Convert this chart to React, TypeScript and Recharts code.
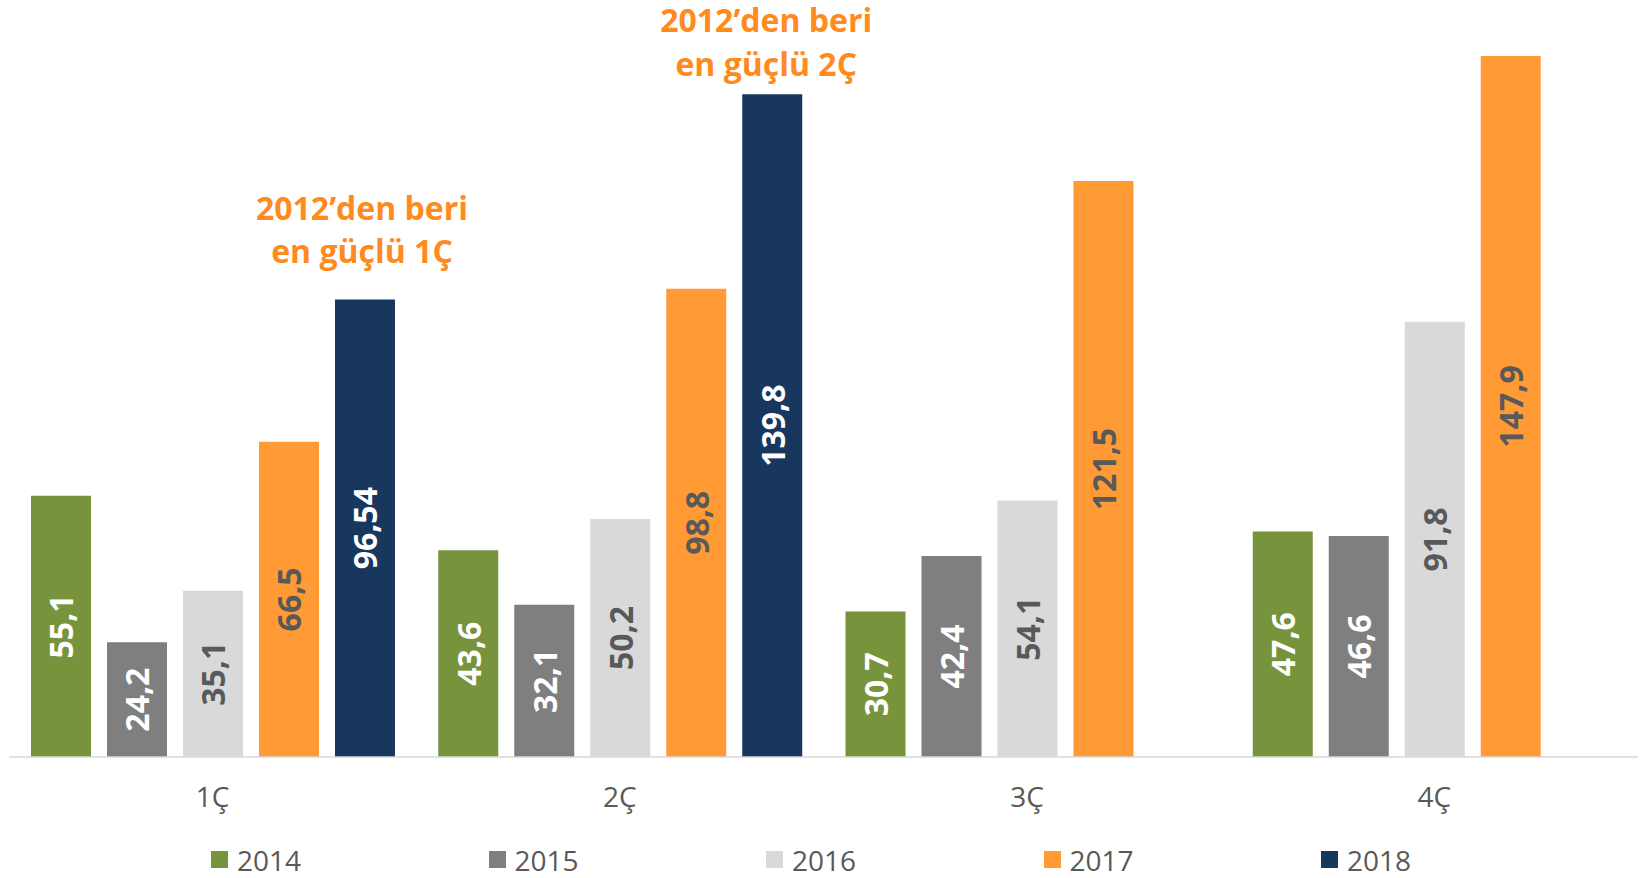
import { BarChart, Bar, XAxis, YAxis, Legend, LabelList } from "recharts";

const quarters = ["1Ç", "2Ç", "3Ç", "4Ç"];
const v2014 = [55.1, 43.6, 30.7, 47.6];
const v2015 = [24.2, 32.1, 42.4, 46.6];
const v2016 = [35.1, 50.2, 54.1, 91.8];
const v2017 = [66.5, 98.8, 121.5, 147.9];
const v2018: (number | null)[] = [96.54, 139.8, null, null];

// callouts above the 2018 bars
const noteLine1 = ["2012’den beri", "2012’den beri", null, null];
const noteLine2 = ["en güçlü 1Ç", "en güçlü 2Ç", null, null];

const data = quarters.map((q, i) => ({
  q,
  y2014: v2014[i],
  y2015: v2015[i],
  y2016: v2016[i],
  y2017: v2017[i],
  y2018: v2018[i],
}));

const series = [
  { key: "y2014", name: "2014", fill: "#77933C", text: "#FFFFFF" },
  { key: "y2015", name: "2015", fill: "#7F7F7F", text: "#FFFFFF" },
  { key: "y2016", name: "2016", fill: "#D9D9D9", text: "#595959" },
  { key: "y2017", name: "2017", fill: "#FF9A35", text: "#595959" },
  { key: "y2018", name: "2018", fill: "#17375E", text: "#FFFFFF" },
];

const FONT = "'Open Sans', sans-serif";

// callout placement relative to the bar: [dx, line1 dy, line2 dy]
const noteOffsets: Record<number, [number, number, number]> = {
  0: [-3, -79.5, -36.5],
  1: [-6, -62, -18.5],
};

function box(props: any) {
  const vb = props.viewBox ?? props;
  return {
    x: Number(vb.x ?? props.x),
    y: Number(vb.y ?? props.y),
    width: Number(vb.width ?? props.width),
    height: Number(vb.height ?? props.height),
  };
}

function valueLabel(color: string) {
  return (props: any) => {
    const { value } = props;
    if (value === null || value === undefined || value === "") return null;
    const { x, y, width, height } = box(props);
    const cx = x + width / 2;
    const cy = y + height / 2;
    return (
      <text
        x={cx}
        y={cy}
        transform={`rotate(-90 ${cx} ${cy})`}
        textAnchor="middle"
        dominantBaseline="central"
        fill={color}
        fontSize={32}
        fontWeight={700}
        fontFamily={FONT}
      >
        {String(value).replace(".", ",")}
      </text>
    );
  };
}

const NoteLabel = (props: any) => {
  const index = props.index;
  const l1 = noteLine1[index];
  if (!l1 || props.value === null || props.value === undefined) return null;
  const { x, y, width } = box(props);
  const off = noteOffsets[index];
  const cx = x + width / 2 + off[0];
  return (
    <g fill="#FF8B1F" fontSize={32} fontWeight={700} fontFamily={FONT}>
      <text x={cx} y={y + off[1]} textAnchor="middle">{l1}</text>
      <text x={cx} y={y + off[2]} textAnchor="middle">{noteLine2[index]}</text>
    </g>
  );
};

const renderLegend = (props: any) => {
  const payload = props.payload || [];
  return (
    <div
      style={{
        display: "flex",
        alignItems: "center",
        height: 44,
        paddingTop: 7,
        paddingLeft: 211,
        boxSizing: "border-box",
      }}
    >
      {payload.map((p: any) => (
        <div key={p.value} style={{ display: "flex", alignItems: "center", width: 277.5 }}>
          <span style={{ display: "inline-block", width: 17, height: 17, background: p.color, marginRight: 9 }} />
          <span style={{ fontSize: 28, color: "#595959", fontFamily: FONT }}>{p.value}</span>
        </div>
      ))}
    </div>
  );
};

export default function App() {
  return (
    <div style={{ position: "absolute", left: 0, top: 0, fontFamily: FONT }}>
      <BarChart
        width={1642}
        height={878}
        data={data}
        margin={{ top: 46, right: 4, bottom: 0, left: 9 }}
        barCategoryGap={22}
        barGap={16}
      >
        <XAxis
          dataKey="q"
          interval={0}
          tickLine={false}
          axisLine={{ stroke: "#D9D9D9", strokeWidth: 1.5 }}
          tick={{ fill: "#595959", fontSize: 28, fontFamily: FONT }}
          tickMargin={24}
          height={77}
        />
        <YAxis hide domain={[0, 150]} />
        <Legend
          verticalAlign="bottom"
          content={renderLegend}
          wrapperStyle={{ left: 0, width: 1642, bottom: 0, height: 44 }}
        />
        {series.map((s) => (
          <Bar key={s.key} dataKey={s.key} name={s.name} fill={s.fill} isAnimationActive={false}>
            <LabelList dataKey={s.key} content={valueLabel(s.text)} />
            {s.key === "y2018" && <LabelList dataKey={s.key} content={NoteLabel} />}
          </Bar>
        ))}
      </BarChart>
    </div>
  );
}
